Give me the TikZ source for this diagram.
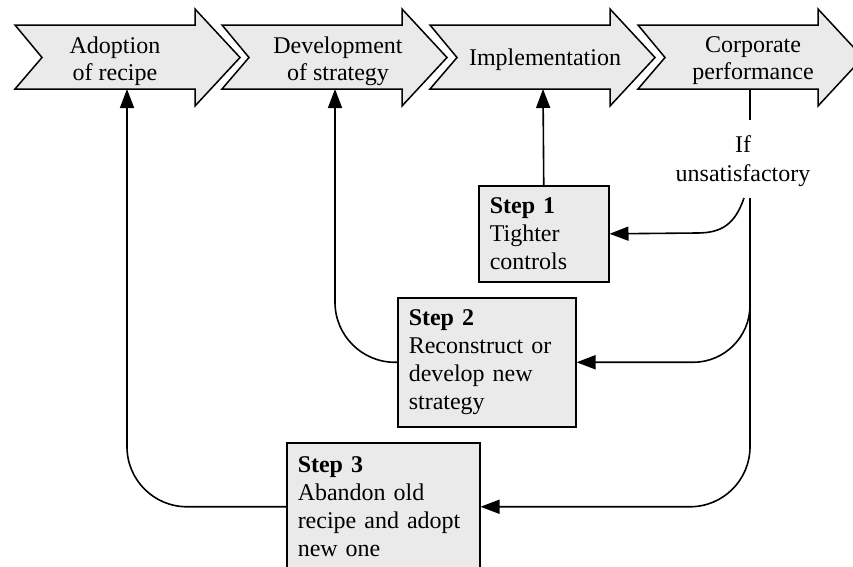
\documentclass[tikz,border=0pt]{standalone}
\usepackage{fontspec}
\setmainfont{Liberation Serif}
\usetikzlibrary{arrows.meta}
\definecolor{boxgray}{RGB}{234,234,234}
\begin{document}
\begin{tikzpicture}[x=1pt,y=-1pt,
  chevron/.style={draw=black,fill=boxgray,line width=1.5pt,line join=miter},
  label/.style={align=center,font=\fontsize{24}{27}\selectfont,inner sep=0pt},
  stepbox/.style={draw=black,fill=boxgray,line width=1.5pt,align=left,
    font=\fontsize{24}{28}\selectfont,inner xsep=11pt,inner ysep=12pt,anchor=north west},
  conn/.style={line width=1.6pt,-{Triangle[length=19pt,width=14pt]}},
  plain/.style={line width=1.6pt}]
\useasboundingbox (0,0) rectangle (853,566);
\clip (0,0) rectangle (853,566);

% process chevrons along the top
\foreach \l in {15,222,430,638}{
  \draw[chevron] (\l,25) -- (\l+180,25) -- (\l+180,9) -- (\l+225,57.5)
    -- (\l+180,106) -- (\l+180,89) -- (\l,89) -- (\l+27,57.5) -- cycle;
}
\node[label] (adopt) at (115,61) {Adoption\\of recipe};
\node[label] (develop) at (338,61) {Development\\of strategy};
\node[label] (impl) at (545,59.5) {Implementation};
\node[label] (perf) at (753,61) {Corporate\\performance};

% attachment points on the lower edge of the chevrons
\coordinate (b1) at (127,89);
\coordinate (b2) at (335,89);
\coordinate (b3) at (543,89);
\coordinate (b4) at (750,89);

% the three steps
\node[stepbox,text width=108pt] (s1) at (478,185)
  {\textbf{Step 1}\\Tighter\\controls};
\node[stepbox,text width=156pt] (s2) at (397,297)
  {\textbf{Step 2}\\Reconstruct or\\develop new\\strategy};
\node[stepbox,text width=171pt,minimum height=128pt] (s3) at (286,442)
  {\textbf{Step 3}\\Abandon old\\recipe and adopt\\new one};

\node[label,font=\fontsize{24}{29}\selectfont] (iff) at (743,161) {If\\unsatisfactory};
\coordinate (itop) at (750,120);
\coordinate (ibot) at (750,198);
\coordinate (ibr) at (744,198);
\coordinate (split2) at (750,303);

% feedback loops
\draw[plain] (b4) -- (itop);
\draw[conn,rounded corners=60pt] (ibot) |- (s3.east);
\draw[conn,rounded corners=57pt] (split2) |- (s2.east);
\draw[conn] (ibr) .. controls (735,224) and (722,233) .. (697,233) -- (s1.east);

\draw[conn] (s1.north) -- (b3);
\draw[conn,rounded corners=60pt] (s2.west) -| (b2);
\draw[conn,rounded corners=60pt] (s3.west) -| (b1);
\end{tikzpicture}
\end{document}
